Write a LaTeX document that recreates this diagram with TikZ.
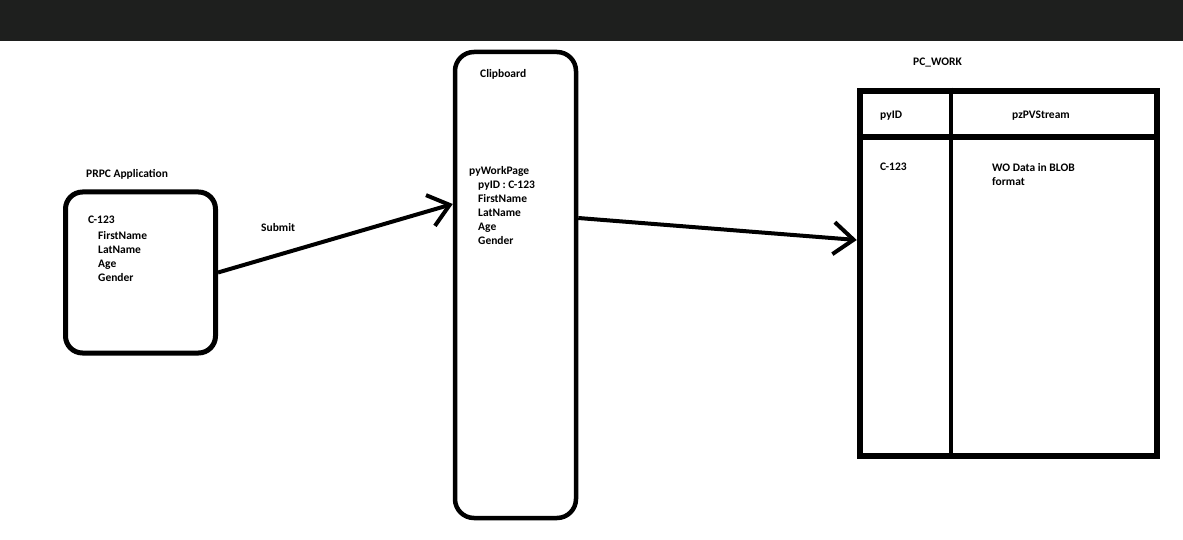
\documentclass[tikz,border=0pt]{standalone}
\usepackage{fontspec}
\setmainfont{Carlito}
\usetikzlibrary{arrows.meta}
\definecolor{topbar}{HTML}{1E1F1E}
\begin{document}
\begin{tikzpicture}[x=1pt, y=-1pt, font=\fontsize{11.5}{14}\selectfont\bfseries]
\tikzstyle{box_style} = [draw=black, rounded corners=17pt, inner sep=0pt]
\tikzstyle{label_style} = [anchor=base west, inner sep=0pt, align=left]
\tikzstyle{edge_style} = [draw=black, line width=4pt, -{Straight Barb[length=20pt, width=32pt, line width=4pt]}]

\useasboundingbox (0,0) rectangle (1183,540);
\fill[white] (0,0) rectangle (1183,540);
\fill[topbar] (0,0) rectangle (1183,41);

% boxes
\node[box_style, line width=5pt, minimum width=150pt, minimum height=161pt] (app) at (140.5,272.5) {};
\node[box_style, line width=4.5pt, minimum width=121pt, minimum height=466pt, rounded corners=19pt] (clip) at (515.5,285) {};
\node[draw=black, line width=6.5pt, minimum width=297pt, minimum height=365pt, inner sep=0pt] (pcwork) at (1008.5,273.5) {};
\draw[line width=5.5pt] (pcwork.west |- 0,137) -- (pcwork.east |- 0,137);
\draw[line width=4.5pt] (pcwork.north -| 951,0) -- (pcwork.south -| 951,0);

% labels (multi-line ones sit on the baseline of their last line)
\node[label_style] (appname) at (86,178) {PRPC Application};
\node[label_style] (appdata) at (88,281) {C-123\\[2pt]\hspace*{10pt}FirstName\\\hspace*{10pt}LatName\\\hspace*{10pt}Age\\\hspace*{10pt}Gender};
\node[label_style] (submit) at (261,231) {Submit};
\node[label_style] (clipname) at (480,78) {Clipboard};
\node[label_style] (clipdata) at (469,244) {pyWorkPage\\\hspace*{9pt}pyID : C-123\\\hspace*{9pt}FirstName\\\hspace*{9pt}LatName\\\hspace*{9pt}Age\\\hspace*{9pt}Gender};
\node[label_style] (tablename) at (913,66) {PC\_WORK};
\node[label_style] (colid) at (880,119) {pyID};
\node[label_style] (colstream) at (1012,119) {pzPVStream};
\node[label_style] (rowid) at (880,171) {C-123};
\node[label_style] (rowstream) at (992,186) {WO Data in BLOB\\format};

% connectors
\coordinate (clipin) at (clip.west |- 0,204);
\coordinate (clipout) at (clip.east |- 0,218);
\coordinate (workin) at (pcwork.west |- 0,240);
\draw[edge_style] (app.east) -- (clipin);
\draw[edge_style] (clipout) -- (workin);
\end{tikzpicture}
\end{document}
